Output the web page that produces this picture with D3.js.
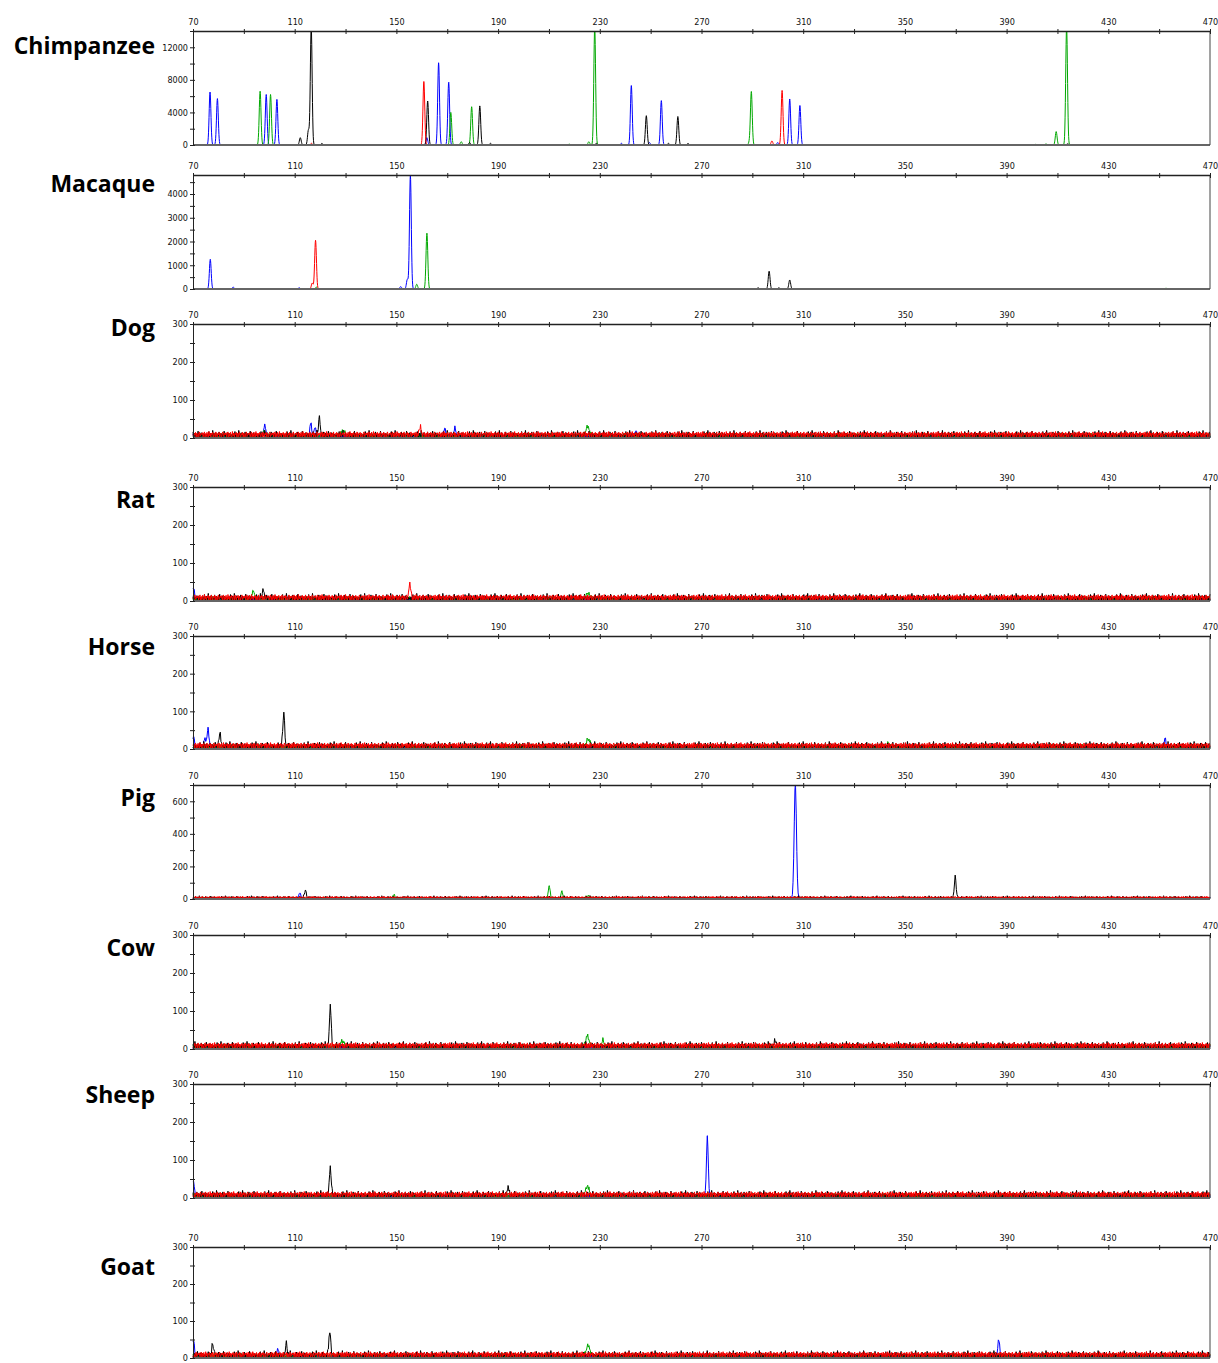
<!DOCTYPE html>
<html>
<head>
<meta charset="utf-8">
<script src="https://cdn.jsdelivr.net/npm/d3@7"></script>
<style>
  body { margin: 0; background: #fff; }
  svg { display: block; }
  .tick text { font-family: "Liberation Sans Narrow", "DejaVu Sans Condensed", sans-serif; font-size: 9px; fill: #111; }
  .species { font-family: "Open Sans", Lato, sans-serif; font-weight: bold; font-size: 23px; fill: #000; }
</style>
</head>
<body>
<svg id="chart" width="1218" height="1363"></svg>
<script>
'use strict';

// species shown, top to bottom
const species = ['Chimpanzee', 'Macaque', 'Dog', 'Rat', 'Horse', 'Pig', 'Cow', 'Sheep', 'Goat'];

// y axis top value (RFU) and tick steps per species
const yMax      = [14000, 4800, 300, 300, 300, 700, 300, 300, 300];
const yMinor    = [2000, 500, 50, 50, 50, 100, 50, 50, 50];
const yMajor    = [4000, 1000, 100, 100, 100, 200, 100, 100, 100];
// which panels show the baseline noise floor
const hasNoise  = [false, false, true, true, true, true, true, true, true];

// size axis (bp)
const sizeDomain = [70, 470];
const sizeTicks = d3.range(70, 471, 20);
const sizeLabels = d3.range(70, 471, 40);

// peaks: [dye, size (bp), height (RFU), width sigma (bp, optional)]
// dye: B blue, G green, K black, R red
const chimpPeaks = [
	['B', 76.7, 6500], ['B', 79.6, 5700],
	['G', 96.4, 6600], ['B', 98.8, 6200], ['G', 100.5, 6200], ['B', 103.0, 5600],
	['K', 112.2, 900], ['K', 115.4, 1800], ['K', 116.5, 14500], ['R', 116.6, 200], ['K', 120.7, 200],
	['R', 160.8, 7800], ['K', 162.3, 5400], ['B', 162.0, 900], ['B', 166.6, 10100],
	['B', 170.4, 1300], ['B', 170.6, 6600], ['G', 171.4, 4000], ['G', 175.5, 400],
	['G', 179.6, 4700], ['K', 178.8, 300], ['K', 182.8, 4800], ['K', 187.0, 200],
	['G', 218.0, 100], ['G', 225.7, 400], ['G', 228.0, 14500], ['K', 228.6, 200],
	['B', 238.5, 200], ['B', 242.4, 7300], ['K', 248.3, 3600], ['B', 249.5, 300],
	['B', 254.2, 5450], ['K', 257.0, 200], ['K', 260.7, 3500], ['K', 264.7, 200],
	['G', 288.8, 300], ['G', 289.6, 6550], ['R', 297.7, 500], ['R', 301.7, 6700],
	['B', 300.0, 300], ['B', 304.7, 5650], ['B', 308.7, 4850],
	['G', 401.5, 80], ['G', 405.5, 120], ['G', 409.5, 1650], ['G', 413.6, 14500], ['K', 414.0, 150]
];

const macaquePeaks = [
	['B', 76.8, 1250], ['B', 85.8, 80], ['B', 111.8, 50],
	['R', 116.9, 250], ['R', 118.2, 2050], ['G', 118.5, 80],
	['B', 151.7, 100], ['B', 154.3, 400], ['B', 155.5, 4800], ['G', 158.0, 200], ['G', 162.0, 2350],
	['K', 292.3, 50], ['K', 296.6, 750], ['K', 300.4, 50], ['K', 304.7, 380], ['G', 452.7, 30]
];

const dogPeaks = [
	['G', 98.0, 15], ['B', 98.2, 31], ['B', 116.3, 34], ['B', 118.0, 25], ['K', 119.7, 45],
	['G', 129.0, 15, 0.7], ['R', 159.3, 22], ['B', 169.0, 22], ['B', 173.0, 22],
	['G', 225.2, 25, 0.7], ['B', 244.2, 15]
];

const ratPeaks = [
	['B', 70.2, 30], ['G', 93.7, 25], ['K', 97.7, 22], ['R', 155.3, 36], ['G', 225.4, 15, 0.7]
];

const horsePeaks = [
	['B', 70.2, 30], ['B', 74.7, 25], ['B', 75.9, 51], ['K', 80.6, 36], ['K', 105.7, 88],
	['G', 225.4, 20, 0.7], ['G', 343.5, 10], ['B', 452.3, 25]
];

const pigPeaks = [
	['B', 112.0, 35], ['K', 114.2, 45], ['G', 149.0, 20],
	['G', 210.1, 75], ['G', 215.1, 41], ['G', 225.4, 15, 0.7],
	['B', 306.9, 700, 0.45], ['K', 369.8, 127]
];

const cowPeaks = [
	['K', 124.0, 107], ['G', 128.8, 15, 0.7], ['G', 225.1, 28, 0.7], ['G', 231.2, 20], ['K', 299.0, 15]
];

const sheepPeaks = [
	['B', 70.2, 40], ['K', 124.0, 75], ['K', 193.9, 22], ['G', 225.1, 25, 0.7], ['B', 272.3, 157]
];

const goatPeaks = [
	['B', 70.2, 45], ['K', 77.8, 28], ['B', 103.3, 20], ['K', 106.7, 30], ['K', 123.8, 66],
	['G', 225.4, 29, 0.7], ['B', 386.9, 46]
];

const panelPeaks = [chimpPeaks, macaquePeaks, dogPeaks, ratPeaks, horsePeaks, pigPeaks, cowPeaks, sheepPeaks, goatPeaks];

// baseline noise floor (RFU), read as a repeating pattern per dye
const noiseR = [9, 14, 3, 11, 16, 2, 12, 4, 15, 6, 1, 17, 6, 13, 2, 12, 9, 15, 1, 10, 13, 3, 16, 9, 2, 12, 8, 15, 1, 13, 9, 2, 12, 16, 4, 7, 13];
const noiseK = [4, 11, 2, 8, 17, 5, 1, 13, 7, 4, 20, 8, 2, 10, 14, 4, 7, 1, 11, 5, 16, 2, 8, 13, 4, 10, 1, 7, 18, 5, 11, 2, 8, 14, 4, 7, 12, 1, 10, 5, 8];
const noiseG = [6, 2, 10, 4, 7, 1, 12, 6, 2, 9, 4, 13, 2, 7, 1, 6, 10, 4, 2, 9, 5, 12, 1, 7, 4, 10, 2, 6, 9, 1, 13, 4, 7, 2, 5, 10, 1, 8, 4, 7, 2, 11, 5];
const noiseB = [3, 7, 1, 6, 4, 10, 1, 4, 8, 2, 6, 1, 7, 4, 11, 2, 5, 1, 8, 4, 2, 7, 1, 10, 4, 6, 2, 8, 1, 4, 7];

// ---- layout ----
const panelTop    = [31, 175, 324, 487, 636, 785, 935, 1084, 1247];
const panelBottom = [145, 289, 438, 601, 749, 899, 1049, 1198, 1358];
const labelY      = [54, 192, 336, 508, 655, 806, 956, 1103, 1275];
const plotLeft = 193, plotRight = 1210, labelRight = 155;

const dyes = [
	{key: 'B', color: '#0000ff', noise: noiseB},
	{key: 'G', color: '#00a800', noise: noiseG},
	{key: 'K', color: '#000000', noise: noiseK},
	{key: 'R', color: '#ff0000', noise: noiseR}
];

const svg = d3.select('#chart');
const x = d3.scaleLinear().domain(sizeDomain).range([plotLeft, plotRight]);

species.forEach((name, p) => {
	const top = panelTop[p], bottom = panelBottom[p];
	const y = d3.scaleLinear().domain([0, yMax[p]]).range([bottom, top]).clamp(true);
	const $g = svg.append('g').attr('class', 'panel');

	$g.append('text')
		.attr('class', 'species')
		.attr('x', labelRight)
		.attr('y', labelY[p])
		.attr('text-anchor', 'end')
		.text(name);

	// traces
	const step = hasNoise[p] ? 0.25 : 0.1;
	const grid = d3.range(sizeDomain[0], sizeDomain[1] + 0.001, step);
	const line = d3.line().x(d => x(d[0])).y(d => y(d[1]));

	dyes.forEach((dye, di) => {
		const peaks = panelPeaks[p].filter(d => d[0] === dye.key);
		const pts = grid.concat(peaks.map(d => d[1])).sort((a, b) => a - b);
		const vals = pts.map(s => {
			let v = 0;
			if (hasNoise[p]) {
				const idx = Math.round((s - sizeDomain[0]) / step) + p * 7 + di * 3;
				v += dye.noise[idx % dye.noise.length];
			}
			peaks.forEach(pk => {
				const sig = pk[3] || 0.35;
				v += pk[2] * Math.exp(-((s - pk[1]) ** 2) / (2 * sig * sig));
			});
			return [s, v];
		});
		$g.append('path')
			.attr('d', line(vals))
			.attr('fill', 'none')
			.attr('stroke', dye.color)
			.attr('stroke-width', 1);
	});

	// frame
	$g.append('line')
		.attr('x1', plotLeft).attr('x2', plotRight)
		.attr('y1', bottom).attr('y2', bottom)
		.attr('stroke', '#666').attr('stroke-width', 2);
	$g.append('line')
		.attr('x1', plotRight).attr('x2', plotRight)
		.attr('y1', top).attr('y2', bottom)
		.attr('stroke', '#444').attr('stroke-width', 1);

	// size axis on top
	const $xAxis = $g.append('g')
		.attr('transform', `translate(0,${top})`)
		.call(d3.axisTop(x)
			.tickValues(sizeTicks)
			.tickFormat(d => sizeLabels.includes(d) ? d : '')
			.tickSize(0)
			.tickPadding(6));
	$xAxis.select('.domain').attr('stroke', '#222').attr('stroke-width', 1.5);
	$xAxis.selectAll('.tick line').attr('y1', -2).attr('y2', 3).attr('stroke', '#222');

	// RFU axis on left
	const $yAxis = $g.append('g')
		.attr('transform', `translate(${plotLeft},0)`)
		.call(d3.axisLeft(y)
			.tickValues(d3.range(0, yMax[p] + 1, yMinor[p]))
			.tickFormat(d => d % yMajor[p] === 0 ? d : '')
			.tickSize(0)
			.tickPadding(5));
	$yAxis.select('.domain').attr('stroke', '#222').attr('stroke-width', 1);
	$yAxis.selectAll('.tick line').attr('x1', -3).attr('x2', 2).attr('stroke', '#222');
});
</script>
</body>
</html>
